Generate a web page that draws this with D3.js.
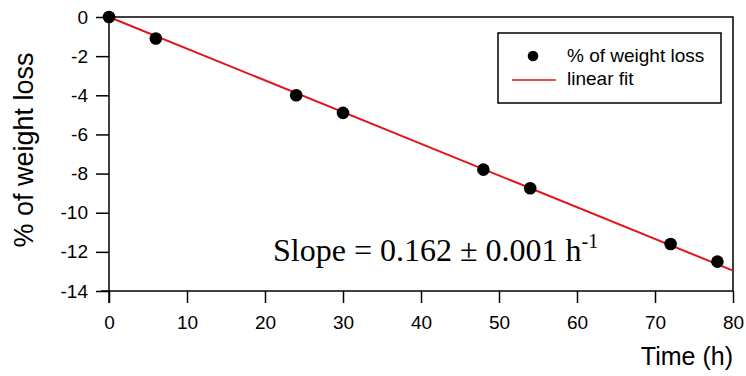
<!DOCTYPE html>
<html>
<head>
<meta charset="utf-8">
<script src="https://cdn.jsdelivr.net/npm/d3@7"></script>
<style>
  body { margin: 0; background: #fff; }
  svg { display: block; }
  text { font-family: "Liberation Sans", Arial, sans-serif; fill: #000; }
</style>
</head>
<body>
<div id="container"></div>
<script>
/* DATA */
const timeH = [0, 6, 24, 30, 48, 54, 72, 78]
const weightLoss = [0, -1.1, -4.0, -4.9, -7.8, -8.75, -11.6, -12.5]
const fitX = [0, 80]
const fitY = [0, -12.96]
const xTicks = [0, 10, 20, 30, 40, 50, 60, 70, 80]
const yTicks = [0, -2, -4, -6, -8, -10, -12, -14]

/* CONSTANTS */
const width = 746,
  height = 376,
  margin = { top: 17, right: 13, bottom: 85, left: 109 }

const fmt = d => String(d) // plain hyphen, like the original

const svg = d3.select("#container")
  .append("svg")
  .attr("width", width)
  .attr("height", height)

// + SCALES
const xScale = d3.scaleLinear()
  .domain([0, 80])
  .range([margin.left, width - margin.right])

const yScale = d3.scaleLinear()
  .domain([-14, 0])
  .range([height - margin.bottom, margin.top])

// + FRAME (top / right)
svg.append("path")
  .attr("d", `M${xScale(0)},${yScale(0)}H${xScale(80)}V${yScale(-14)}`)
  .attr("fill", "none")
  .attr("stroke", "#000")
  .attr("stroke-width", 1.5)

// + AXES
const xMinor = d3.range(0, 81, 2)
const yMinor = d3.range(-14, 0.01, 0.5)

const xAxis = svg.append("g")
  .attr("transform", `translate(0, ${yScale(-14)})`)
  .call(d3.axisBottom(xScale).tickValues(xMinor).tickSize(4).tickFormat(""))
xAxis.call(d3.axisBottom(xScale).tickValues(xTicks).tickSize(12).tickPadding(13).tickFormat(fmt))
xAxis.selectAll("path.domain").attr("d", `M${xScale(0) - 8},0H${xScale(80)}`)
xAxis.selectAll("line, path").attr("stroke", "#000").attr("stroke-width", 1.5)
xAxis.selectAll("text").attr("font-size", 19).style("font-family", "Liberation Sans, Arial, sans-serif")

const yAxis = svg.append("g")
  .attr("transform", `translate(${xScale(0)}, 0)`)
  .call(d3.axisLeft(yScale).tickValues(yMinor).tickSize(5).tickFormat(""))
yAxis.call(d3.axisLeft(yScale).tickValues(yTicks).tickSize(13).tickPadding(8).tickFormat(fmt))
yAxis.selectAll("path.domain").attr("d", `M0,${yScale(0)}V${yScale(-14) + 12}`)
yAxis.selectAll("line, path").attr("stroke", "#000").attr("stroke-width", 1.5)
yAxis.selectAll("text").attr("font-size", 19).style("font-family", "Liberation Sans, Arial, sans-serif")

// + AXIS TITLES
svg.append("text")
  .attr("transform", `translate(33, 150) rotate(-90)`)
  .attr("text-anchor", "middle")
  .attr("font-size", 27)
  .text("% of weight loss")

svg.append("text")
  .attr("x", xScale(80))
  .attr("y", 365)
  .attr("text-anchor", "end")
  .attr("font-size", 25)
  .text("Time (h)")

// + LINEAR FIT
const fitData = fitX.map((x, i) => ({ x: x, y: fitY[i] }))
const lineGen = d3.line()
  .x(d => xScale(d.x))
  .y(d => yScale(d.y))

svg.append("path")
  .datum(fitData)
  .attr("d", lineGen)
  .attr("fill", "none")
  .attr("stroke", "#e0161b")
  .attr("stroke-width", 2)

// + POINTS
const points = timeH.map((t, i) => ({ t: t, v: weightLoss[i] }))
svg.selectAll("circle.pt")
  .data(points)
  .join("circle")
  .attr("class", "pt")
  .attr("cx", d => xScale(d.t))
  .attr("cy", d => yScale(d.v))
  .attr("r", 6.3)
  .attr("fill", "#000")

// + LEGEND
const legend = svg.append("g")
legend.append("rect")
  .attr("x", 498).attr("y", 33)
  .attr("width", 223).attr("height", 70)
  .attr("fill", "#fff")
  .attr("stroke", "#000")
  .attr("stroke-width", 1.5)
legend.append("circle")
  .attr("cx", 533).attr("cy", 56).attr("r", 5.3).attr("fill", "#000")
legend.append("line")
  .attr("x1", 512).attr("x2", 556).attr("y1", 80).attr("y2", 80)
  .attr("stroke", "#e0161b").attr("stroke-width", 1.5)
legend.append("text")
  .attr("x", 567).attr("y", 62).attr("font-size", 19).text("% of weight loss")
legend.append("text")
  .attr("x", 567).attr("y", 85).attr("font-size", 19).text("linear fit")

// + SLOPE ANNOTATION
const note = svg.append("text")
  .attr("x", 273).attr("y", 261)
  .style("font-family", "Liberation Serif, 'Times New Roman', serif")
  .attr("font-size", 32)
note.append("tspan").text("Slope = 0.162 ± 0.001 h")
note.append("tspan").attr("dy", -13).attr("font-size", 20).text("-1")
</script>
</body>
</html>
